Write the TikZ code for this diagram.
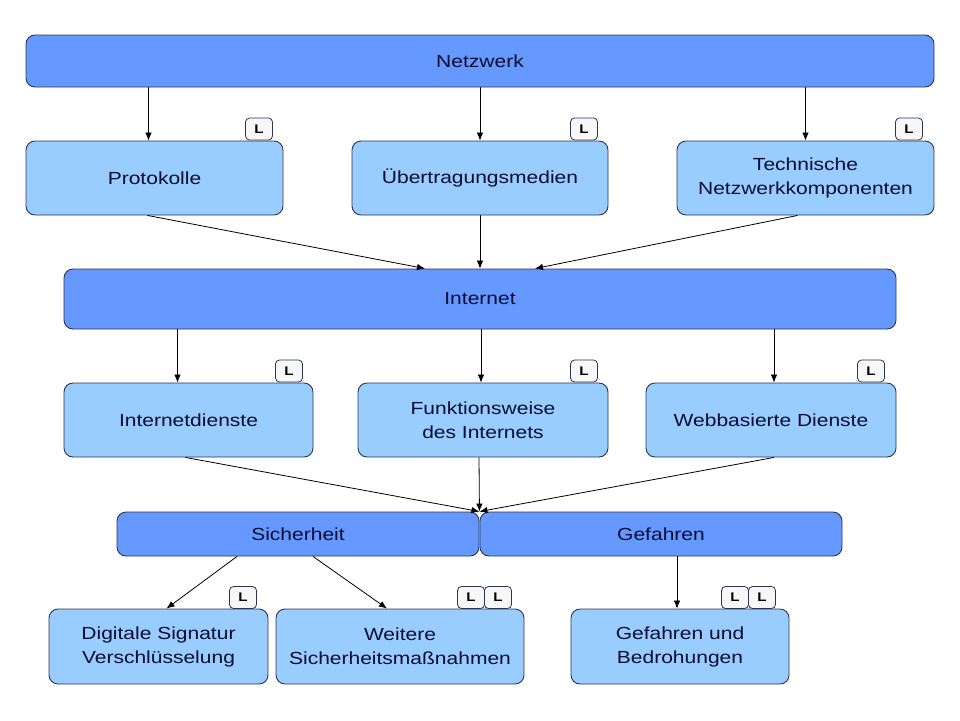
\documentclass[tikz,border=0pt]{standalone}
\usepackage{fontspec}
\setmainfont{Liberation Sans}[FakeStretch=1.2]
\usetikzlibrary{arrows.meta}
\definecolor{darkbox}{HTML}{6699FF}
\definecolor{lightbox}{HTML}{99CCFF}
\definecolor{rand}{HTML}{2B3550}
\definecolor{schrift}{HTML}{0C0C30}
\tikzset{
  box/.style={draw=rand, line width=0.9pt, rounded corners=9pt, inner sep=0pt,
    align=center, text=schrift, font=\fontsize{17.5}{24}\selectfont},
  haupt/.style={box, fill=darkbox},
  thema/.style={box, fill=lightbox},
  lbox/.style={draw=rand, line width=0.8pt, fill=white!97!black, rounded corners=4pt,
    minimum width=27, minimum height=22, inner sep=0pt,
    font=\bfseries\fontsize{12.5}{12.5}\selectfont},
  pfeil/.style={-{Latex[length=8pt,width=6.5pt]}, line width=0.8pt}
}
\begin{document}
\begin{tikzpicture}[x=1pt,y=-1pt]
  \useasboundingbox (0,0) rectangle (960,720);
  \draw
    (480,61) node[haupt, minimum width=908, minimum height=52] (netz){Netzwerk}
    (154.5,178) node[thema, minimum width=257, minimum height=74] (prot){Protokolle}
    (480,178) node[thema, minimum width=256, minimum height=74] (ueber){Übertragungsmedien}
    (805.5,178) node[thema, minimum width=257, minimum height=74] (tech){Technische\\Netzwerkkomponenten}
    (480,299) node[haupt, minimum width=832, minimum height=60] (inet){Internet}
    (188.5,420) node[thema, minimum width=249, minimum height=74] (dienst){Internetdienste}
    (483,420) node[thema, minimum width=250, minimum height=74] (funk){Funktionsweise\\des Internets}
    (771,420) node[thema, minimum width=250, minimum height=74] (web){Webbasierte Dienste}
    (298,534) node[haupt, minimum width=362, minimum height=44] (sich){Sicherheit}
    (661,534) node[haupt, minimum width=362, minimum height=44] (gef){Gefahren}
    (158.5,646.5) node[thema, minimum width=219, minimum height=75] (sig){Digitale Signatur\\Verschlüsselung}
    (400,646.5) node[thema, minimum width=248, minimum height=75] (weit){Weitere\\Sicherheitsmaßnahmen}
    (680,646.5) node[thema, minimum width=218, minimum height=75] (bedr){Gefahren und\\Bedrohungen};
  % L-Markierungen
  \draw
    (259,129) node[lbox] (lprot){L}
    (584,129) node[lbox] (lueber){L}
    (909,129) node[lbox] (ltech){L}
    (289,371) node[lbox] (ldienst){L}
    (584,371) node[lbox] (lfunk){L}
    (871,371) node[lbox] (lweb){L}
    (243,597.5) node[lbox] (lsig){L}
    (471,597.5) node[lbox] (lweita){L}
    (498,597.5) node[lbox] (lweitb){L}
    (735,597.5) node[lbox] (lbedra){L}
    (762,597.5) node[lbox] (lbedrb){L};
  \begin{scope}[pfeil]
    \draw ([xshift=-6pt]prot.north |- netz.south) to ([xshift=-6pt]prot.north);
    \draw (ueber.north |- netz.south) to (ueber.north);
    \draw (tech.north |- netz.south) to (tech.north);
    \draw ([xshift=-7pt]prot.south) to ([xshift=-55pt]inet.north);
    \draw (ueber.south) to (inet.north);
    \draw ([xshift=-8pt]tech.south) to ([xshift=55pt]inet.north);
    \draw ([xshift=-11pt]dienst.north |- inet.south) to ([xshift=-11pt]dienst.north);
    \draw ([xshift=-2pt]funk.north |- inet.south) to ([xshift=-2pt]funk.north);
    \draw ([xshift=3pt]web.north |- inet.south) to ([xshift=3pt]web.north);
    \draw ([xshift=-3pt]dienst.south) to (sich.north east);
    \draw ([xshift=-4pt]funk.south) to (sich.north east);
    \draw ([xshift=3pt]web.south) to (sich.north east);
    \draw ([xshift=-61pt]sich.south) to ([xshift=8pt]sig.north);
    \draw ([xshift=15pt]sich.south) to ([xshift=-13pt]weit.north);
    \draw ([xshift=-3pt]bedr.north |- gef.south) to ([xshift=-3pt]bedr.north);
  \end{scope}
\end{tikzpicture}
\end{document}
